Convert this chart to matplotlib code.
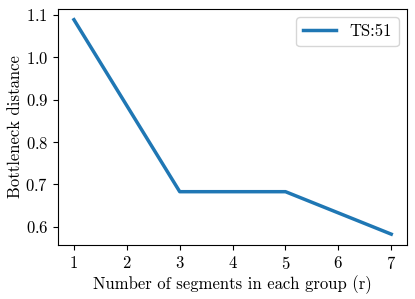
import matplotlib
matplotlib.use("Agg")
import matplotlib.pyplot as plt

# data
r_values = [1, 3, 5, 7]
distance = [1.088, 0.683, 0.683, 0.583]
label = "TS:51"

plt.rcParams["font.family"] = "serif"
plt.rcParams["font.serif"] = ["cmr10"]
plt.rcParams["mathtext.fontset"] = "cm"
plt.rcParams["axes.formatter.use_mathtext"] = True
plt.rcParams["font.size"] = 12

fig, ax = plt.subplots(figsize=(4.15, 2.99), dpi=100)
fig.subplots_adjust(left=0.14, right=0.981, top=0.970, bottom=0.181)

ax.plot(r_values, distance, color="#1f77b4", linewidth=2.5, label=label)
ax.set_xlabel("Number of segments in each group (r)", labelpad=3)
ax.set_ylabel("Bottleneck distance", labelpad=1.5)
ax.set_xticks(range(1, 8))
ax.legend(loc="upper right")

fig.savefig("out.png", dpi=100)
